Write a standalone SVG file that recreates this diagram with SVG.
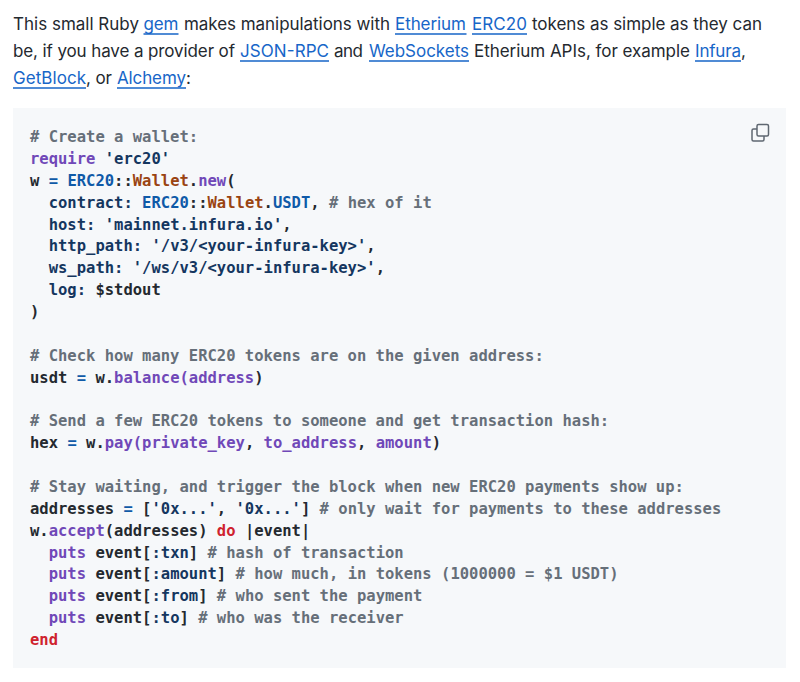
<svg xmlns="http://www.w3.org/2000/svg" width="800" height="682" viewBox="0 0 800 682">
<style>
.p{font-family:"Inter","Liberation Sans",sans-serif;font-size:17px;fill:#24292f}
.a{fill:#1766c8}
.u{stroke:#1766c8;stroke-width:1.3;fill:none}
.c{font-family:"DejaVu Sans Mono","Liberation Mono",monospace;font-size:15.53px;font-weight:700;fill:#24292f;white-space:pre}
.g{fill:#666f79}.v{fill:#7048b8}.b{fill:#0f5aa8}.n{fill:#14365f}.o{fill:#9a4412}.r{fill:#cf222e}
</style>
<rect width="800" height="682" fill="#ffffff"/>
<g id="paragraph">
<text class="p" x="13" y="30" textLength="126" lengthAdjust="spacing">This small Ruby</text>
<text class="p a" x="143.5" y="30" textLength="35" lengthAdjust="spacing">gem</text>
<text class="p" x="184" y="30" textLength="206" lengthAdjust="spacing">makes manipulations with</text>
<text class="p a" x="395" y="30" textLength="71" lengthAdjust="spacing">Etherium</text>
<text class="p a" x="472" y="30" textLength="55" lengthAdjust="spacing">ERC20</text>
<text class="p" x="532" y="30" textLength="230" lengthAdjust="spacing">tokens as simple as they can</text>
<text class="p" x="13" y="57" textLength="222" lengthAdjust="spacing">be, if you have a provider of</text>
<text class="p a" x="240" y="57" textLength="89" lengthAdjust="spacing">JSON-RPC</text>
<text class="p" x="334" y="57" textLength="29" lengthAdjust="spacing">and</text>
<text class="p a" x="369" y="57" textLength="100" lengthAdjust="spacing">WebSockets</text>
<text class="p" x="474" y="57" textLength="216" lengthAdjust="spacing">Etherium APIs, for example</text>
<text class="p a" x="695" y="57" textLength="46" lengthAdjust="spacing">Infura</text>
<text class="p" x="741" y="57">,</text>
<text class="p a" x="13" y="84" textLength="73" lengthAdjust="spacing">GetBlock</text>
<text class="p" x="86" y="84" textLength="26" lengthAdjust="spacing">, or</text>
<text class="p a" x="117" y="84" textLength="69" lengthAdjust="spacing">Alchemy</text>
<text class="p" x="186" y="84">:</text>
<path class="u" d="M143.5 34H178.500M395 34H466.500M472 34H527M240 61H329M369 61H469M695 61H741M13 88H86M117 88H186"/>
</g>
<g id="code-block">
<rect x="13" y="108" width="773" height="560" fill="#f6f8fa"/>
<g id="copy-icon" fill="none" stroke="#5f6771" stroke-width="1.5">
<rect x="757" y="124.500" width="11.500" height="11.500" rx="1.500"/>
<path d="M757 129H753.500A1.500 1.500 0 0 0 752 130.500V139.500A1.500 1.500 0 0 0 753.500 141H762.500A1.500 1.500 0 0 0 764 139.500V136"/>
</g>
<text class="c g" x="30" y="142"># Create a wallet:</text>
<text class="c" x="30" y="163.900"><tspan class="v">require</tspan> <tspan class="n">'erc20'</tspan></text>
<text class="c" x="30" y="185.700">w <tspan class="b">=</tspan> <tspan class="b">ERC20</tspan>::<tspan class="o">Wallet</tspan>.<tspan class="v">new</tspan>(</text>
<text class="c" x="30" y="207.600">  <tspan class="n">contract:</tspan> <tspan class="b">ERC20</tspan>::<tspan class="o">Wallet</tspan>.<tspan class="b">USDT</tspan>, <tspan class="g"># hex of it</tspan></text>
<text class="c" x="30" y="229.500">  <tspan class="n">host:</tspan> <tspan class="n">'mainnet.infura.io'</tspan>,</text>
<text class="c" x="30" y="251.300">  <tspan class="n">http_path:</tspan> <tspan class="n">'/v3/&lt;your-infura-key&gt;'</tspan>,</text>
<text class="c" x="30" y="273.200">  <tspan class="n">ws_path:</tspan> <tspan class="n">'/ws/v3/&lt;your-infura-key&gt;'</tspan>,</text>
<text class="c" x="30" y="295.100">  <tspan class="n">log:</tspan> $stdout</text>
<text class="c" x="30" y="317">)</text>
<text class="c g" x="30" y="360.700"># Check how many ERC20 tokens are on the given address:</text>
<text class="c" x="30" y="382.600">usdt <tspan class="b">=</tspan> w.<tspan class="v">balance(address</tspan>)</text>
<text class="c g" x="30" y="426.300"># Send a few ERC20 tokens to someone and get transaction hash:</text>
<text class="c" x="30" y="448.200">hex <tspan class="b">=</tspan> w.<tspan class="v">pay(private_key</tspan>, <tspan class="v">to_address</tspan>, <tspan class="v">amount</tspan>)</text>
<text class="c g" x="30" y="492"># Stay waiting, and trigger the block when new ERC20 payments show up:</text>
<text class="c" x="30" y="513.800">addresses <tspan class="b">=</tspan> [<tspan class="n">'0x...'</tspan>, <tspan class="n">'0x...'</tspan>] <tspan class="g"># only wait for payments to these addresses</tspan></text>
<text class="c" x="30" y="535.700">w.<tspan class="v">accept</tspan>(addresses) <tspan class="r">do</tspan> |event|</text>
<text class="c" x="30" y="557.500">  <tspan class="v">puts</tspan> event[<tspan class="n">:txn</tspan>] <tspan class="g"># hash of transaction</tspan></text>
<text class="c" x="30" y="579.400">  <tspan class="v">puts</tspan> event[<tspan class="n">:amount</tspan>] <tspan class="g"># how much, in tokens (1000000 = $1 USDT)</tspan></text>
<text class="c" x="30" y="601.300">  <tspan class="v">puts</tspan> event[<tspan class="n">:from</tspan>] <tspan class="g"># who sent the payment</tspan></text>
<text class="c" x="30" y="623.100">  <tspan class="v">puts</tspan> event[<tspan class="n">:to</tspan>] <tspan class="g"># who was the receiver</tspan></text>
<text class="c r" x="30" y="645">end</text>
</g>
</svg>
